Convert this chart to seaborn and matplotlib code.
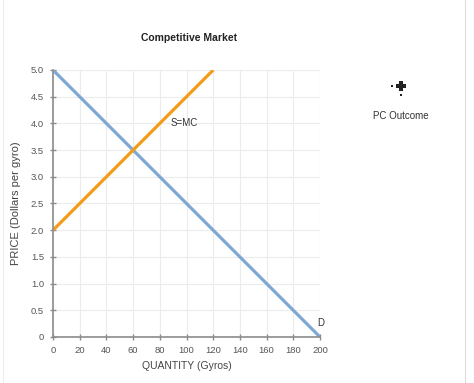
import matplotlib
matplotlib.use("Agg")
import matplotlib.pyplot as plt
from matplotlib.lines import Line2D
import seaborn as sns
import pandas as pd

sns.set_theme(style="white")
plt.rcParams['font.family'] = ['Liberation Sans', 'DejaVu Sans']

# Data
supply_q = [0, 120]
supply_p = [2.0, 5.0]
demand_q = [0, 200]
demand_p = [5.0, 0.0]
x_ticks = [0, 20, 40, 60, 80, 100, 120, 140, 160, 180, 200]
y_ticks = [0, 0.5, 1.0, 1.5, 2.0, 2.5, 3.0, 3.5, 4.0, 4.5, 5.0]
y_tick_labels = ["0", "0.5", "1.0", "1.5", "2.0", "2.5", "3.0", "3.5", "4.0", "4.5", "5.0"]

df_s = pd.DataFrame({"Q": supply_q, "P": supply_p})
df_d = pd.DataFrame({"Q": demand_q, "P": demand_p})

fig = plt.figure(figsize=(4.74, 3.83), dpi=100)
ax = fig.add_axes([53/474, 1-337/383, (320-53)/474, (337-70)/383])

sns.lineplot(data=df_d, x="Q", y="P", ax=ax, color="#7ea8d3", linewidth=2.3, solid_capstyle="butt")
sns.lineplot(data=df_s, x="Q", y="P", ax=ax, color="#f39c1a", linewidth=2.3, solid_capstyle="butt")

ax.set_xlim(0, 200)
ax.set_ylim(0, 5)
ax.set_xticks(x_ticks)
ax.set_yticks(y_ticks)
ax.set_yticklabels(y_tick_labels)
ax.grid(True, color="#ececec", linewidth=0.8)
for s in ["top", "right"]:
    ax.spines[s].set_visible(False)
for s in ["left", "bottom"]:
    ax.spines[s].set_color("#8c8c8c")
    ax.spines[s].set_linewidth(1.2)
ax.tick_params(axis="both", direction="inout", length=5, width=1, color="#8c8c8c",
               labelsize=6.8, labelcolor="#555555", pad=4, bottom=True, left=True)
ax.set_xlabel("QUANTITY (Gyros)", fontsize=7.5, color="#444444", labelpad=4)
ax.set_ylabel("PRICE (Dollars per gyro)", fontsize=8, color="#444444", labelpad=7)

ax.text(98, 4.0, "S=MC", fontsize=7, color="#333333", ha="center", va="center")
ax.text(200.5, 0.26, "D", fontsize=7, color="#333333", ha="center", va="center")

fig.text(189/474, 1-38/383, "Competitive Market", fontsize=7.5, fontweight="bold",
         color="#222222", ha="center", va="center")

# legend marker
fig.add_artist(Line2D([401/474], [1-86/383], marker="P", markersize=7, color="#222222",
                      markeredgewidth=0, linestyle="none", transform=fig.transFigure))
fig.add_artist(Line2D([392/474], [1-86/383], marker="s", markersize=1.8, color="#222222",
                      markeredgewidth=0, linestyle="none", transform=fig.transFigure))
fig.add_artist(Line2D([401/474], [1-95/383], marker="s", markersize=1.8, color="#222222",
                      markeredgewidth=0, linestyle="none", transform=fig.transFigure))
fig.text(401/474, 1-116/383, "PC Outcome", fontsize=7, color="#333333", ha="center", va="center")

# frame lines
fig.add_artist(Line2D([465/474, 465/474], [0, 1], color="#dddddd", linewidth=0.8, transform=fig.transFigure))
fig.add_artist(Line2D([3/474, 3/474], [0, 1], color="#eeeeee", linewidth=0.8, transform=fig.transFigure))

fig.savefig("out.png", dpi=100)
